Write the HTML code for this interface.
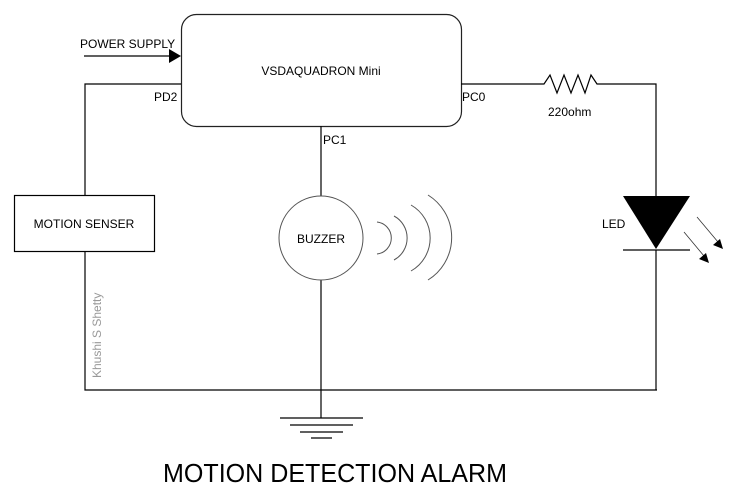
<!DOCTYPE html>
<html><head><meta charset="utf-8"><style>
html,body{margin:0;padding:0;background:#fff;}
svg{display:block;}
text{font-family:"Liberation Sans",Arial,sans-serif;fill:#000;}
</style></head><body>
<svg width="754" height="502" viewBox="0 0 754 502" xmlns="http://www.w3.org/2000/svg">
<g stroke="#000" stroke-width="1.2" fill="none">
  <rect x="181.5" y="14.5" width="280" height="112" rx="15" ry="15" stroke="#222"/>
  <line x1="84" y1="56" x2="170" y2="56"/>
  <polyline points="181,84 85,84 85,195"/>
  <polyline points="85,251 85,390 657,390"/>
  <rect x="14.5" y="195.5" width="140" height="56"/>
  <polyline points="461,84 544,84 550,75 557,93 564,75 571,93 578,75 585,93 591,75 597,84 656,84 656,196"/>
  <line x1="656" y1="250" x2="656" y2="390"/>
  <line x1="623" y1="250" x2="690" y2="250"/>
  <line x1="321" y1="126" x2="321" y2="196"/>
  <line x1="321" y1="280" x2="321" y2="418"/>
  <line x1="280" y1="418" x2="363" y2="418"/>
  <line x1="290" y1="425" x2="353" y2="425"/>
  <line x1="300" y1="432" x2="343" y2="432"/>
  <line x1="311" y1="438" x2="332" y2="438"/>
</g>
<circle cx="321" cy="238" r="42" fill="none" stroke="#555" stroke-width="1"/>
<g stroke="#555" stroke-width="1" fill="none">
  <path d="M377,222 A16.1,16.1 0 0 1 377,254"/>
  <path d="M394,216 A25,25 0 0 1 394,260"/>
  <path d="M411,205 A38,38 0 0 1 411,271"/>
  <path d="M428,195 A50,50 0 0 1 428,280"/>
</g>
<polygon points="169,49 181,56 169,63" fill="#000"/>
<polygon points="623,196 690,196 656,249" fill="#000"/>
<g stroke="#333" stroke-width="0.8">
  <line x1="697" y1="217" x2="718" y2="242"/>
  <line x1="684" y1="232" x2="704" y2="256"/>
</g>
<polygon points="723,249 713,245 720,239" fill="#000"/>
<polygon points="709,263 699,259 706,253" fill="#000"/>
<text x="80" y="48" font-size="12">POWER SUPPLY</text>
<text x="321" y="75" font-size="12" text-anchor="middle">VSDAQUADRON Mini</text>
<text x="154" y="101" font-size="12">PD2</text>
<text x="462" y="101" font-size="12">PC0</text>
<text x="323" y="144" font-size="12">PC1</text>
<text x="548" y="116" font-size="12">220ohm</text>
<text x="602" y="228" font-size="12">LED</text>
<text x="321" y="243" font-size="12" text-anchor="middle">BUZZER</text>
<text x="84" y="228" font-size="12" text-anchor="middle">MOTION SENSER</text>
<text transform="translate(101,378) rotate(-90)" font-size="12" style="fill:#999">Khushi S Shetty</text>
<text x="163" y="482" font-size="26" textLength="344" lengthAdjust="spacingAndGlyphs">MOTION DETECTION ALARM</text>
</svg>
</body></html>
